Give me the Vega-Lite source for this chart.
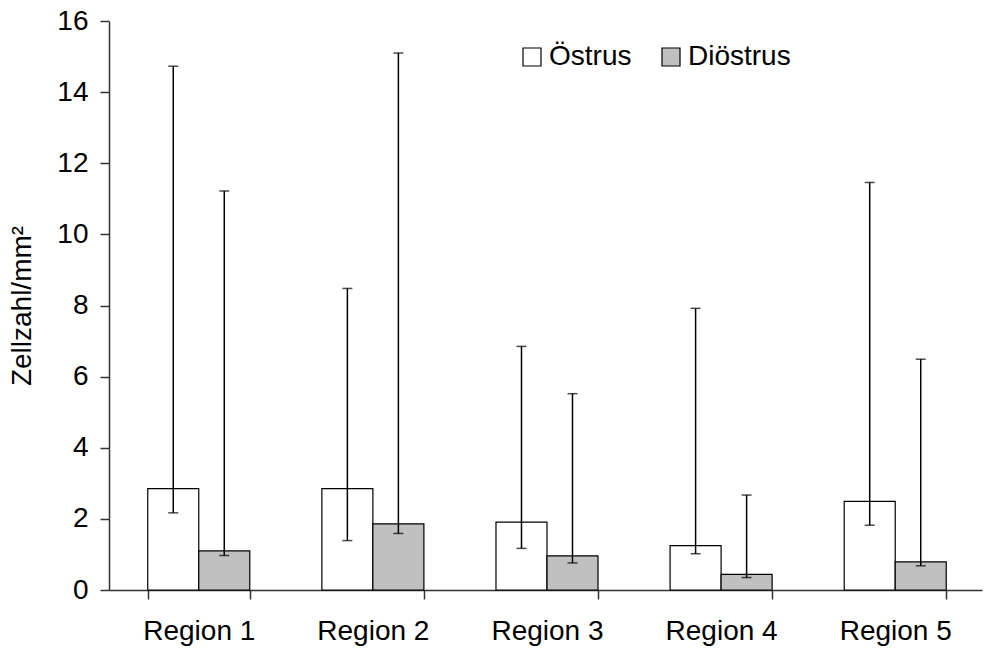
{
  "$schema": "https://vega.github.io/schema/vega-lite/v6.json",
  "width": 873,
  "height": 569,
  "autosize": {"type": "none"},
  "padding": {"left": 109, "top": 21, "right": 9, "bottom": 62},
  "background": "white",
  "config": {
    "font": "Liberation Sans",
    "view": {"stroke": null},
    "axis": {
      "domainColor": "#333333",
      "tickColor": "#333333",
      "labelColor": "black",
      "titleColor": "black",
      "labelFont": "Liberation Sans",
      "titleFont": "Liberation Sans",
      "labelFontSize": 28,
      "titleFontSize": 28,
      "titleFontWeight": "normal",
      "tickSize": 9,
      "domainWidth": 1.5,
      "tickWidth": 1.5,
      "grid": false
    },
    "axisY": {
      "labelPadding": 12,
      "titlePadding": 20,
      "labelOverlap": false
    }
  },
  "data": {
    "values": [
      {"region": "Region 1", "zyklus": "Östrus", "wert": 2.85, "unten": 2.17, "oben": 14.73},
      {"region": "Region 1", "zyklus": "Diöstrus", "wert": 1.1, "unten": 0.97, "oben": 11.22},
      {"region": "Region 2", "zyklus": "Östrus", "wert": 2.85, "unten": 1.39, "oben": 8.48},
      {"region": "Region 2", "zyklus": "Diöstrus", "wert": 1.86, "unten": 1.59, "oben": 15.1},
      {"region": "Region 3", "zyklus": "Östrus", "wert": 1.91, "unten": 1.17, "oben": 6.85},
      {"region": "Region 3", "zyklus": "Diöstrus", "wert": 0.96, "unten": 0.76, "oben": 5.52},
      {"region": "Region 4", "zyklus": "Östrus", "wert": 1.25, "unten": 1.02, "oben": 7.92},
      {"region": "Region 4", "zyklus": "Diöstrus", "wert": 0.44, "unten": 0.35, "oben": 2.67},
      {"region": "Region 5", "zyklus": "Östrus", "wert": 2.49, "unten": 1.82, "oben": 11.46},
      {"region": "Region 5", "zyklus": "Diöstrus", "wert": 0.79, "unten": 0.68, "oben": 6.49}
    ]
  },
  "encoding": {
    "x": {
      "field": "region",
      "type": "nominal",
      "sort": null,
      "scale": {"paddingInner": 0.414, "paddingOuter": 0.214, "align": 0.52},
      "axis": {
        "title": null,
        "labelAngle": 0,
        "labelPadding": 18,
        "tickBand": "extent"
      }
    },
    "xOffset": {
      "field": "zyklus",
      "type": "nominal",
      "sort": ["Östrus", "Diöstrus"]
    }
  },
  "layer": [
    {
      "mark": {"type": "bar", "stroke": "black", "strokeWidth": 1.2},
      "encoding": {
        "y": {
          "field": "wert",
          "type": "quantitative",
          "scale": {"domain": [0, 16], "nice": false},
          "axis": {
            "title": "Zellzahl/mm²",
            "values": [0, 2, 4, 6, 8, 10, 12, 14, 16]
          }
        },
        "fill": {
          "field": "zyklus",
          "type": "nominal",
          "sort": ["Östrus", "Diöstrus"],
          "scale": {"domain": ["Östrus", "Diöstrus"], "range": ["white", "#c0c0c0"]},
          "legend": {
            "title": null,
            "orient": "none",
            "legendX": 409,
            "legendY": 22,
            "direction": "horizontal",
            "symbolType": "square",
            "symbolSize": 324,
            "symbolStrokeColor": "black",
            "symbolStrokeWidth": 1.2,
            "labelFontSize": 28,
            "labelColor": "black",
            "labelOffset": 3,
            "columnPadding": 25
          }
        }
      }
    },
    {
      "mark": {"type": "rule", "color": "black", "strokeWidth": 1.5},
      "encoding": {
        "y": {
          "field": "unten",
          "type": "quantitative",
          "axis": {"title": "Zellzahl/mm²", "values": [0, 2, 4, 6, 8, 10, 12, 14, 16]}
        },
        "y2": {"field": "oben"}
      }
    },
    {
      "mark": {"type": "tick", "color": "black", "thickness": 1.5, "size": 10},
      "encoding": {
        "y": {
          "field": "oben",
          "type": "quantitative",
          "axis": {"title": "Zellzahl/mm²", "values": [0, 2, 4, 6, 8, 10, 12, 14, 16]}
        }
      }
    },
    {
      "mark": {"type": "tick", "color": "black", "thickness": 1.5, "size": 10},
      "encoding": {
        "y": {
          "field": "unten",
          "type": "quantitative",
          "axis": {"title": "Zellzahl/mm²", "values": [0, 2, 4, 6, 8, 10, 12, 14, 16]}
        }
      }
    }
  ]
}
